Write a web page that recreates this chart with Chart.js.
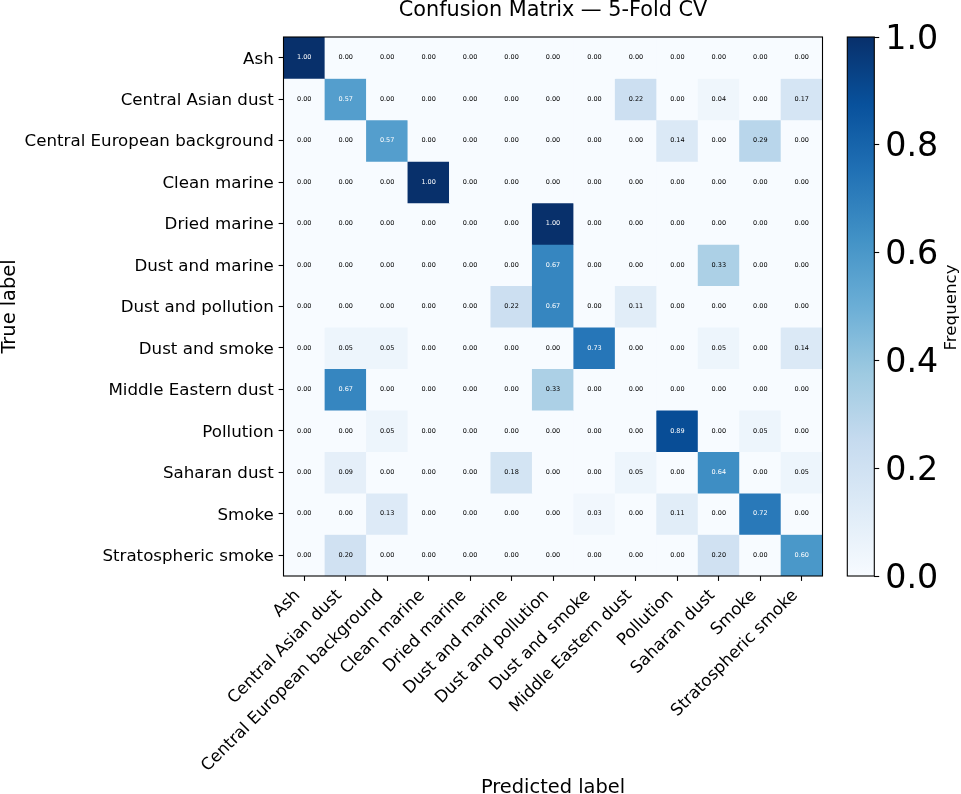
<!DOCTYPE html>
<html><head><meta charset="utf-8">
<script src="https://cdn.jsdelivr.net/npm/chart.js@4.4.1/dist/chart.umd.min.js"></script>
<style>
html,body{margin:0;padding:0;background:#fff;}
#wrap{position:relative;width:961px;height:794px;}
canvas{position:absolute;left:0;top:0;}
</style></head><body>
<div id="wrap"><canvas id="cm" width="961" height="794"></canvas><canvas id="cb" width="961" height="794"></canvas></div>
<script>
// ---- data ----
const classes = ['Ash','Central Asian dust','Central European background','Clean marine','Dried marine','Dust and marine','Dust and pollution','Dust and smoke','Middle Eastern dust','Pollution','Saharan dust','Smoke','Stratospheric smoke'];
const trueLabels = classes;
const predictedLabels = classes;
const matrix = [
  [1.00,0.00,0.00,0.00,0.00,0.00,0.00,0.00,0.00,0.00,0.00,0.00,0.00],
  [0.00,0.57,0.00,0.00,0.00,0.00,0.00,0.00,0.22,0.00,0.04,0.00,0.17],
  [0.00,0.00,0.57,0.00,0.00,0.00,0.00,0.00,0.00,0.14,0.00,0.29,0.00],
  [0.00,0.00,0.00,1.00,0.00,0.00,0.00,0.00,0.00,0.00,0.00,0.00,0.00],
  [0.00,0.00,0.00,0.00,0.00,0.00,1.00,0.00,0.00,0.00,0.00,0.00,0.00],
  [0.00,0.00,0.00,0.00,0.00,0.00,0.67,0.00,0.00,0.00,0.33,0.00,0.00],
  [0.00,0.00,0.00,0.00,0.00,0.22,0.67,0.00,0.11,0.00,0.00,0.00,0.00],
  [0.00,0.05,0.05,0.00,0.00,0.00,0.00,0.73,0.00,0.00,0.05,0.00,0.14],
  [0.00,0.67,0.00,0.00,0.00,0.00,0.33,0.00,0.00,0.00,0.00,0.00,0.00],
  [0.00,0.00,0.05,0.00,0.00,0.00,0.00,0.00,0.00,0.89,0.00,0.05,0.00],
  [0.00,0.09,0.00,0.00,0.00,0.18,0.00,0.00,0.05,0.00,0.64,0.00,0.05],
  [0.00,0.00,0.13,0.00,0.00,0.00,0.00,0.03,0.00,0.11,0.00,0.72,0.00],
  [0.00,0.20,0.00,0.00,0.00,0.00,0.00,0.00,0.00,0.00,0.20,0.00,0.60]
];
const cbMin = 0, cbMax = 1, cbStep = 0.2;
const BLUES = ['#f7fbff','#deebf7','#c6dbef','#9ecae1','#6baed6','#4292c6','#2171b5','#08519c','#08306b'];

// ---- helpers ----
function hexToRgb(h){return [parseInt(h.slice(1,3),16),parseInt(h.slice(3,5),16),parseInt(h.slice(5,7),16)];}
function blues(v){
  const t = Math.max(0, Math.min(1, (v - cbMin)/(cbMax - cbMin))) * (BLUES.length - 1);
  const i = Math.min(Math.floor(t), BLUES.length - 2), f = t - i;
  const a = hexToRgb(BLUES[i]), b = hexToRgb(BLUES[i+1]);
  const c = a.map((x, k) => Math.round(x + (b[k] - x) * f));
  return 'rgb(' + c.join(',') + ')';
}
Chart.defaults.font.family = '"DejaVu Sans", sans-serif';
Chart.defaults.color = '#000';

const frame = { id:'frame', afterDraw(chart){
  const {ctx, chartArea:a} = chart;
  ctx.save(); ctx.strokeStyle = '#000'; ctx.lineWidth = 1.1;
  ctx.strokeRect(a.left, a.top, a.right - a.left, a.bottom - a.top);
  ctx.restore();
}};
const cellText = { id:'cellText', afterDatasetsDraw(chart){
  const ctx = chart.ctx;
  ctx.save();
  ctx.font = '6.5px "DejaVu Sans"';
  ctx.textAlign = 'center'; ctx.textBaseline = 'middle';
  matrix.forEach((row, r) => {
    const meta = chart.getDatasetMeta(r);
    meta.data.forEach((el, c) => {
      const v = row[c];
      const p = el.getCenterPoint();
      ctx.fillStyle = v > 0.5 ? '#ffffff' : '#000000';
      ctx.fillText(v.toFixed(2), p.x, p.y);
    });
  });
  ctx.restore();
}};
const freqLabel = { id:'freqLabel', afterDraw(chart){
  const ctx = chart.ctx, s = chart.scales.y, a = chart.chartArea;
  ctx.save();
  ctx.translate(s.right - 9, (a.top + a.bottom) / 2 + 1);
  ctx.rotate(-Math.PI / 2);
  ctx.font = '16.67px "DejaVu Sans"'; ctx.fillStyle = '#000';
  ctx.textAlign = 'center'; ctx.textBaseline = 'middle';
  ctx.fillText('Frequency', 0, 0);
  ctx.restore();
}};

const tickGrid = {drawOnChartArea:false, drawTicks:true, tickLength:4.9, tickWidth:1.1, tickColor:'#000', offset:false};

new Chart(document.getElementById('cm'), {
  type: 'bar',
  data: {
    labels: predictedLabels,
    datasets: matrix.map((row, r) => ({
      label: trueLabels[r],
      data: row.map(() => [r, r + 1]),
      backgroundColor: row.map(v => blues(v)),
      borderWidth: 0,
      grouped: false,
      barPercentage: 1,
      categoryPercentage: 1
    }))
  },
  options: {
    responsive: false, animation: false, events: [],
    layout: {padding: {left: 0, right: 138.5, top: 0, bottom: 0}},
    plugins: {
      legend: {display: false}, tooltip: {enabled: false},
      title: {display: true, fullSize: false, text: 'Confusion Matrix — 5-Fold CV', color: '#000', font: {size: 20.8, weight: 'normal', lineHeight: 1}, padding: {top: 0, bottom: 16.2}}
    },
    scales: {
      x: {
        type: 'category', offset: true,
        grid: tickGrid, border: {display: false},
        ticks: {autoSkip: false, maxRotation: 45, minRotation: 45, font: {size: 16.67}, color: '#000', padding: 4.9, labelOffset: -6.5},
        title: {display: true, text: 'Predicted label', color: '#000', font: {size: 19.4, lineHeight: 1}, padding: {top: 0, bottom: -3.5}},
        afterFit: s => { s.height = 218; }
      },
      y: {
        type: 'linear', min: 0, max: 13, reverse: true,
        afterBuildTicks: s => { s.ticks = trueLabels.map((_, i) => ({value: i + 0.5})); },
        ticks: {autoSkip: false, callback: (v, i) => trueLabels[i], font: {size: 16.67}, color: '#000', padding: 4.9, labelOffset: 1.5},
        grid: tickGrid, border: {display: false},
        title: {display: true, text: 'True label', color: '#000', font: {size: 19.4, lineHeight: 1}, padding: {top: 0, bottom: 0}},
        afterFit: s => { s.width = 283.5; }
      }
    }
  },
  plugins: [cellText, frame]
});

new Chart(document.getElementById('cb'), {
  type: 'bar',
  data: {
    labels: ['Frequency'],
    datasets: [{
      data: [[cbMin, cbMax]],
      backgroundColor: (c) => {
        const ch = c.chart, ys = ch.scales.y;
        if (!ch.chartArea || !ys) return BLUES[0];
        const g = ch.ctx.createLinearGradient(0, ys.getPixelForValue(cbMin), 0, ys.getPixelForValue(cbMax));
        BLUES.forEach((col, i) => g.addColorStop(i / (BLUES.length - 1), col));
        return g;
      },
      borderWidth: 0, barPercentage: 1, categoryPercentage: 1
    }]
  },
  options: {
    responsive: false, animation: false, events: [],
    layout: {padding: {left: 847.3, right: 0, top: 37, bottom: 218}},
    plugins: {legend: {display: false}, tooltip: {enabled: false}},
    scales: {
      x: {display: false},
      y: {
        position: 'right', min: cbMin, max: cbMax,
        ticks: {stepSize: cbStep, callback: v => Number(v).toFixed(1), font: {size: 33.3}, color: '#000', padding: 6, labelOffset: 3},
        grid: {drawOnChartArea: false, drawTicks: true, tickLength: 4.9, tickWidth: 1.1, tickColor: '#000'},
        border: {display: false},
        afterFit: s => { s.width = 961 - 874.3; }
      }
    }
  },
  plugins: [frame, freqLabel]
});
</script>
</body></html>
